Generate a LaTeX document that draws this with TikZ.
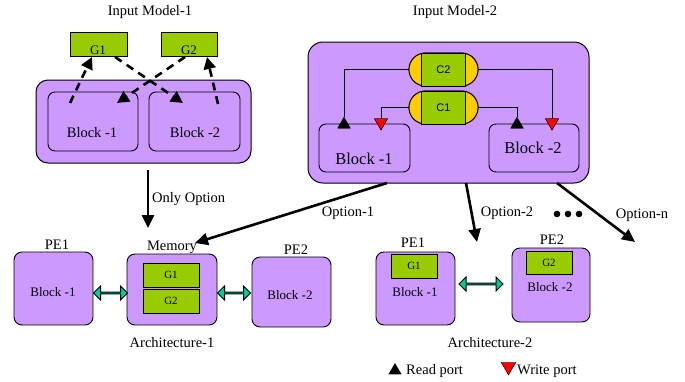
\documentclass[tikz,border=0pt]{standalone}
\usepackage{fontspec}
\setmainfont{Liberation Serif}
\newfontfamily\capfont{Liberation Sans}
\usetikzlibrary{arrows.meta,shapes.geometric,shapes.misc,shapes.arrows}

\definecolor{lav}{HTML}{CC99FF}
\definecolor{leaf}{HTML}{99CC00}
\definecolor{amber}{HTML}{FFCC00}
\definecolor{sea}{HTML}{00CC99}

\begin{document}
\begin{tikzpicture}[x=1pt,y=-1pt,
  every node/.style={inner sep=0pt, font=\fontsize{14.5}{16}\selectfont},
  outerbox/.style={draw, fill=lav, line width=1pt, rounded corners=12pt},
  blockbox/.style={draw, fill=lav, line width=0.9pt, rounded corners=7pt},
  gbox/.style={draw, fill=leaf, line width=0.9pt},
  smalltext/.style={font=\fontsize{11}{12}\selectfont},
  capsule/.style={rounded rectangle, draw, fill=amber, line width=0.9pt,
    minimum width=69pt, minimum height=33pt},
  capcore/.style={draw, fill=leaf, line width=0.9pt, minimum width=44pt,
    minimum height=33pt, font=\capfont\fontsize{11}{12}\selectfont},
  readport/.style={regular polygon, regular polygon sides=3, fill=black,
    minimum size=15pt},
  writeport/.style={regular polygon, regular polygon sides=3,
    shape border rotate=180, fill=red, draw=black, line width=0.4pt,
    minimum size=15pt},
  flow/.style={line width=2.6pt, -{Triangle[length=13pt,width=12pt]}},
  dflow/.style={line width=2.6pt, dash pattern=on 8pt off 6pt,
    -{Triangle[length=12pt,width=12pt]}},
  wire/.style={line width=0.9pt},
  link/.style={double arrow, draw, fill=sea, line width=1pt,
    minimum width=14pt, double arrow head extend=3.5pt, inner sep=0pt},
]
\useasboundingbox (0,0) rectangle (685,381);

% ---------- Input Model-1 ----------
\node (t1) at (150,12) {Input Model-1};
\node[outerbox, minimum width=215pt, minimum height=83pt] (m1) at (143.5,121.5) {};
\node[blockbox, minimum width=90pt, minimum height=59pt] (b11) at (93,121.5) {};
\node[blockbox, minimum width=91pt, minimum height=59pt] (b12) at (194.5,121.5) {};
\node (b11t) at (92,133) {Block -1};
\node (b12t) at (195,133) {Block -2};
\node[gbox, minimum width=57pt, minimum height=24pt] (g1) at (98.5,44) {};
\node[gbox, minimum width=56pt, minimum height=24pt] (g2) at (189,44) {};
\node[font=\fontsize{13}{14}\selectfont] (g1t) at (98,50.5) {G1};
\node[font=\fontsize{13}{14}\selectfont] (g2t) at (189,50.5) {G2};

% dashed read/write accesses
\coordinate (d1a) at (70,103);  \coordinate (d1b) at (92,57);
\coordinate (d2a) at (115,57);  \coordinate (d2b) at (183,103);
\coordinate (d3a) at (185,57);  \coordinate (d3b) at (117,103);
\coordinate (d4a) at (218,104); \coordinate (d4b) at (207,57);
\draw[dflow] (d1a) -- (d1b);
\draw[dflow] (d2a) -- (d2b);
\draw[dflow] (d3a) -- (d3b);
\draw[dflow] (d4a) -- (d4b);

% ---------- Input Model-2 ----------
\node (t2) at (455,12) {Input Model-2};
\node[outerbox, rounded corners=15pt, minimum width=281pt, minimum height=141pt] (m2) at (448.5,112.5) {};
\node[blockbox, minimum width=91pt, minimum height=48pt] (b21) at (364.5,148) {};
\node[blockbox, minimum width=90pt, minimum height=48pt] (b22) at (534,148) {};
\node[font=\fontsize{16.5}{18}\selectfont] (b21t) at (364,159) {Block -1};
\node[font=\fontsize{16.5}{18}\selectfont] (b22t) at (533,148) {Block -2};

\node[capsule] (c2) at (443.5,69.5) {};
\node[capsule] (c1) at (443.5,107.5) {};
\node[readport]  (r1) at (344,124.5) {};
\node[writeport] (w1) at (381,122.5) {};
\node[readport]  (r2) at (517,124.5) {};
\node[writeport] (w2) at (552,122.5) {};
\draw[wire] (c2.west) -| (r1.north);
\draw[wire] (c2.east) -| (w2.north);
\draw[wire] (c1.west) -| (w1.north);
\draw[wire] (c1.east) -| (r2.north);
\node[readport]  at (r1) {};
\node[writeport] at (w1) {};
\node[readport]  at (r2) {};
\node[writeport] at (w2) {};
\node[capsule] at (c2) {};
\node[capsule] at (c1) {};
\node[capcore] (c2c) at (c2) {C2};
\node[capcore] (c1c) at (c1) {C1};

% ---------- mapping options ----------
\coordinate (o0a) at (148,170); \coordinate (o0b) at (148,228);
\coordinate (o1a) at (387,183); \coordinate (o1b) at (195,243);
\coordinate (o2a) at (466,183); \coordinate (o2b) at (477,242);
\coordinate (o3a) at (557,183); \coordinate (o3b) at (635,242);
\draw[flow] (o0a) -- (o0b);
\draw[flow] (o1a) -- (o1b);
\draw[flow] (o2a) -- (o2b);
\draw[flow] (o3a) -- (o3b);
\node[anchor=west] (l0) at (152,199) {Only Option};
\node (l1) at (348,213) {Option-1};
\node (l2) at (507,213) {Option-2};
\node (l3) at (642,215) {Option-n};
\fill (557,214) circle (3.3) (568,214) circle (3.3) (579,214) circle (3.3);

% ---------- Architecture-1 ----------
\node (pe1at) at (57,245) {PE1};
\node[blockbox, rounded corners=8pt, minimum width=79pt, minimum height=73pt] (pa1) at (53.5,288.5) {};
\node[font=\fontsize{13}{14}\selectfont] (pa1t) at (53,292) {Block -1};
\node (memt) at (172,247) {Memory};
\node[blockbox, rounded corners=8pt, minimum width=90pt, minimum height=71pt] (mem) at (172,289.5) {};
\node[gbox, smalltext, minimum width=56pt, minimum height=24pt] (mg1) at (171,275) {G1};
\node[gbox, smalltext, minimum width=56pt, minimum height=24pt] (mg2) at (171,301) {G2};
\node (pe2at) at (296,250) {PE2};
\node[blockbox, rounded corners=8pt, minimum width=79pt, minimum height=70pt] (pa2) at (291.5,292) {};
\node[font=\fontsize{13}{14}\selectfont] (pa2t) at (290,295) {Block -2};
\node[link, minimum height=34pt] (k1) at (110.5,293) {};
\node[link, minimum height=33pt] (k2) at (234,293) {};
\node (arch1) at (172,343) {Architecture-1};

% ---------- Architecture-2 ----------
\node (pe1bt) at (413,243) {PE1};
\node[blockbox, rounded corners=8pt, minimum width=79pt, minimum height=73pt] (pb1) at (415.5,288.5) {};
\node[gbox, smalltext, minimum width=46pt, minimum height=24pt] (bg1) at (414,266) {G1};
\node[font=\fontsize{13}{14}\selectfont] (pb1t) at (415,292) {Block -1};
\node (pe2bt) at (552,240) {PE2};
\node[blockbox, rounded corners=8pt, minimum width=78pt, minimum height=74pt] (pb2) at (551,285) {};
\node[gbox, smalltext, minimum width=46pt, minimum height=23pt] (bg2) at (549,262.5) {G2};
\node[font=\fontsize{13}{14}\selectfont] (pb2t) at (550,287) {Block -2};
\node[link, minimum height=44pt] (k3) at (481,284) {};
\node (arch2) at (490,343) {Architecture-2};

% ---------- legend ----------
\node[readport] (lr) at (395,370.5) {};
\node[anchor=west] (lrt) at (406,371) {Read port};
\node[writeport, minimum size=17pt] (lw) at (508.5,366.5) {};
\node[anchor=west] (lwt) at (517,371) {Write port};
\end{tikzpicture}
\end{document}
